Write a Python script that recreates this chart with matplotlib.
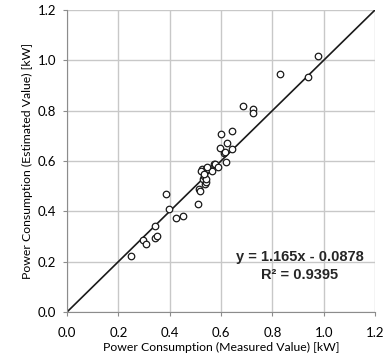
import matplotlib.pyplot as plt

measured = [0.251, 0.296, 0.306, 0.342, 0.342, 0.351, 0.386, 0.398, 0.424, 0.450,
            0.511, 0.515, 0.517, 0.527, 0.530, 0.533, 0.538, 0.543, 0.543, 0.543,
            0.550, 0.563, 0.572, 0.577, 0.590, 0.597, 0.599, 0.612, 0.615, 0.618,
            0.625, 0.642, 0.642, 0.685, 0.725, 0.724, 0.828, 0.940, 0.978,
            0.522, 0.535, 0.547]
estimated = [0.221, 0.285, 0.272, 0.342, 0.294, 0.302, 0.468, 0.408, 0.375, 0.382,
             0.431, 0.488, 0.480, 0.567, 0.528, 0.541, 0.510, 0.517, 0.570, 0.530,
             0.567, 0.561, 0.587, 0.590, 0.577, 0.650, 0.709, 0.630, 0.635, 0.597,
             0.672, 0.720, 0.646, 0.817, 0.807, 0.790, 0.945, 0.933, 1.016,
             0.560, 0.550, 0.575]
ref_line = [0.0, 1.2]
ticks = [0.0, 0.2, 0.4, 0.6, 0.8, 1.0, 1.2]
tick_labels = ['0.0', '0.2', '0.4', '0.6', '0.8', '1.0', '1.2']

plt.rcParams['font.family'] = ['Lato', 'DejaVu Sans']

fig = plt.figure(figsize=(3.88, 3.63), dpi=100)
ax = fig.add_axes([0.1727, 0.1405, 0.7938, 0.832])

ax.plot(ref_line, ref_line, color='#1a1a1a', linewidth=1.2, zorder=2)
ax.scatter(measured, estimated, s=22, facecolors='white', edgecolors='#1a1a1a',
           linewidths=0.9, zorder=3)

ax.set_xlim(0, 1.2)
ax.set_ylim(0, 1.2)
ax.set_xticks(ticks)
ax.set_yticks(ticks)
ax.set_xticklabels(tick_labels)
ax.set_yticklabels(tick_labels)
ax.grid(True, color='#c8c8c8', linewidth=1.0, zorder=0)
ax.set_axisbelow(True)
for s in ['top', 'right']:
    ax.spines[s].set_visible(False)
for s in ['left', 'bottom']:
    ax.spines[s].set_color('#8c8c8c')
ax.tick_params(axis='both', length=3, color='#8c8c8c', labelsize=9.5)
ax.tick_params(axis='x', pad=8)
ax.tick_params(axis='y', pad=5)

ax.set_xlabel('Power Consumption (Measured Value) [kW]', fontsize=8.8, labelpad=2)
ax.set_ylabel('Power Consumption (Estimated Value) [kW]', fontsize=8.8, labelpad=3)

ax.text(0.908, 0.2185, 'y = 1.165x - 0.0878', ha='center', va='center',
        fontsize=10.5, fontweight='bold', family='Liberation Sans', color='#262626')
ax.text(0.908, 0.147, 'R\u00b2 = 0.9395', ha='center', va='center',
        fontsize=10.5, fontweight='bold', family='Liberation Sans', color='#262626')

fig.savefig('out.png', dpi=100)
